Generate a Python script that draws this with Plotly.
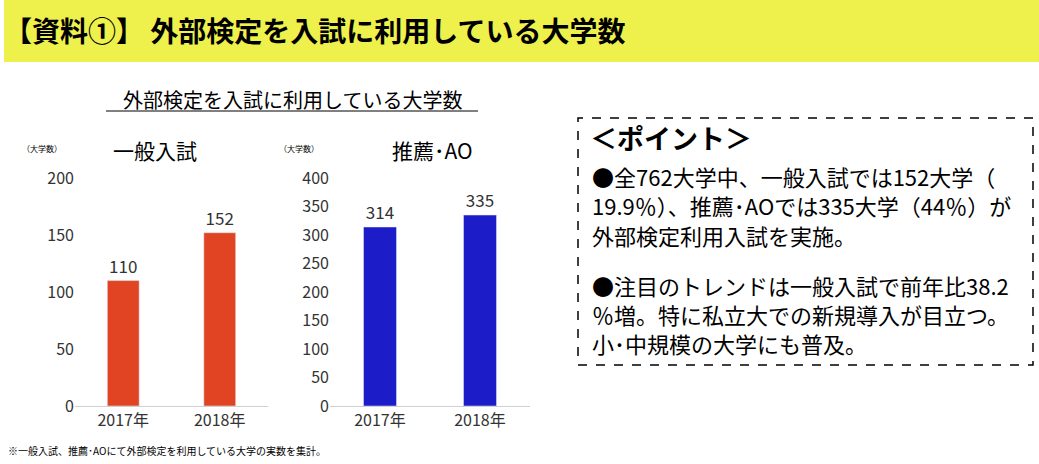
import plotly.graph_objects as go

years = ["2017年", "2018年"]
general = [110, 152]
recommend = [314, 335]

W, H = 1039, 464
font = "Noto Sans CJK JP"

def px(x):
    return x / W

def py(y):
    return 1 - y / H

fig = go.Figure()
fig.add_trace(go.Bar(x=years, y=general, marker_color="#E04422", width=0.33,
                     text=general, textposition="outside", textfont=dict(size=17, color="#333"),
                     xaxis="x", yaxis="y", cliponaxis=False))
fig.add_trace(go.Bar(x=years, y=recommend, marker_color="#1C1CC8", width=0.33,
                     text=recommend, textposition="outside", textfont=dict(size=17, color="#333"),
                     xaxis="x2", yaxis="y2", cliponaxis=False))

ax = dict(showgrid=False, zeroline=False, showline=True, linecolor="#d0d0d0",
          tickfont=dict(size=16, color="#333"), ticks="", fixedrange=True)
ay = dict(showgrid=False, zeroline=False, showline=False, tickfont=dict(size=16, color="#333"),
          ticks="", fixedrange=True)

fig.update_layout(
    width=W, height=H, margin=dict(l=0, r=0, t=0, b=0, autoexpand=False),
    paper_bgcolor="white", plot_bgcolor="white", showlegend=False,
    font=dict(family=font),
    xaxis=dict(ax, domain=[px(75), px(268)], anchor="y"),
    yaxis=dict(ay, domain=[py(406), py(178)], range=[0, 200], dtick=50, anchor="x"),
    xaxis2=dict(ax, domain=[px(330), px(530)], anchor="y2"),
    yaxis2=dict(ay, domain=[py(406), py(178)], range=[0, 400], dtick=50, anchor="x2"),
    shapes=[
        dict(type="rect", xref="paper", yref="paper", x0=px(4), x1=1, y0=py(62), y1=1,
             fillcolor="#EEF04C", line_width=0, layer="below"),
        dict(type="rect", xref="paper", yref="paper", x0=px(578), x1=px(1033), y0=py(365), y1=py(118),
             line=dict(color="black", width=1.5, dash="dash")),
        dict(type="line", xref="paper", yref="paper", x0=px(106), x1=px(478), y0=py(111), y1=py(111),
             line=dict(color="black", width=1)),
    ],
)

annos = [
    (2, 30, "【資料①】 外部検定を入試に利用している大学数", 28, "left", True),
    (292, 99, "外部検定を入試に利用している大学数", 20, "center", False),
    (155, 150, "一般入試", 21, "center", False),
    (432, 150, "推薦･AO", 21, "center", False),
    (20, 148, "（大学数）", 8, "left", False),
    (277, 148, "（大学数）", 8, "left", False),
    (6, 450, "※一般入試、推薦･AOにて外部検定を利用している大学の実数を集計。", 10, "left", False),
    (588, 137, "＜ポイント＞", 27, "left", True),
]
for x, y, t, s, al, b in annos:
    fig.add_annotation(xref="paper", yref="paper", x=px(x), y=py(y), text=f"<b>{t}</b>" if b else t,
                       showarrow=False, xanchor=al, yanchor="middle",
                       font=dict(size=s, color="black", family=font))

lines = [
    (176, "●全762大学中、一般入試では152大学（"),
    (205, "19.9％）、推薦･AOでは335大学（44％）が"),
    (235, "外部検定利用入試を実施。"),
    (285, "●注目のトレンドは一般入試で前年比38.2"),
    (314, "％増。特に私立大での新規導入が目立つ。"),
    (343, "小･中規模の大学にも普及。"),
]
for y, t in lines:
    fig.add_annotation(xref="paper", yref="paper", x=px(590), y=py(y), text=t, showarrow=False,
                       xanchor="left", yanchor="middle", font=dict(size=22, color="black", family=font))

fig.write_html("out.html", config={"displayModeBar": False},
               post_script="document.body.style.margin='0';")
